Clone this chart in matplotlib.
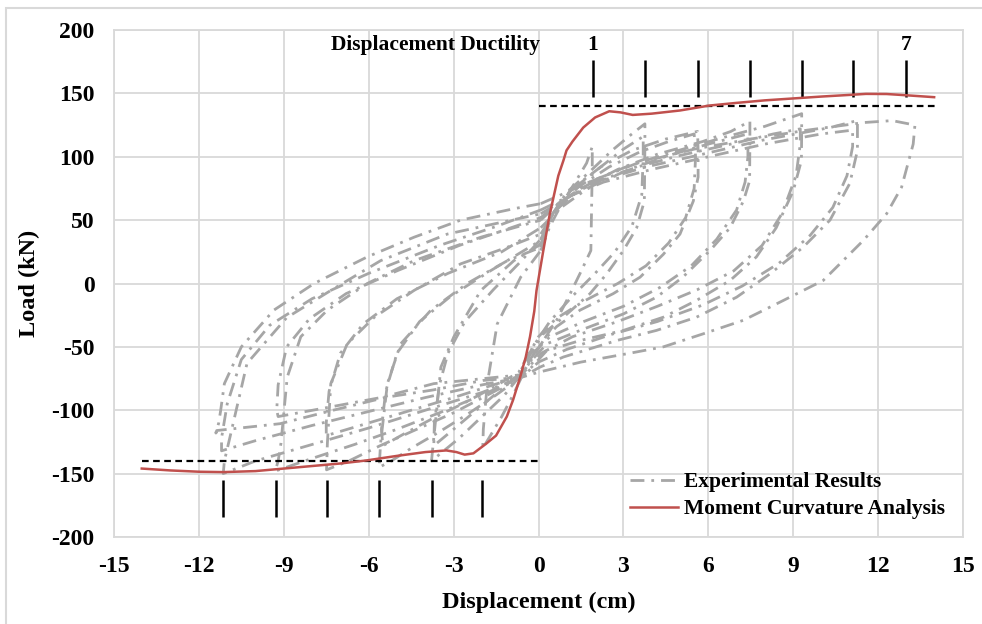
import matplotlib
matplotlib.use("Agg")
import matplotlib.pyplot as plt
from matplotlib.lines import Line2D
from matplotlib.patches import Rectangle

plt.rcParams['font.family'] = ['Liberation Serif', 'DejaVu Serif']
plt.rcParams['font.weight'] = 'bold'
plt.rcParams['axes.unicode_minus'] = False

# experimental hysteresis cycles (displacement in cm, load in kN)
cyc1_disp = [0.08, 0.4, 0.8, 1.3, 1.7, 1.9, 1.9, 1.88, 1.85, 1.47, 1.12, 0.64, 0.17, -0.3, -0.6,
             -0.9, -1.3, -1.7, -1.97, -1.95, -1.81, -1.46, -0.63, 0.08]
cyc1_load = [26, 45, 62, 80, 95, 108, 92, 65, 26, 8, -8, -29, -45, -60, -74,
             -88, -105, -120, -130, -115, -79, -32, 5, 26]

cyc2_disp = [0.08, 0.5, 1.0, 1.8, 2.6, 3.3, 3.76, 3.76, 3.74, 3.47, 3.0, 2.41, 1.82, 0.88, 0.17, -0.4, -0.7,
             -1.2, -2.0, -2.8, -3.4, -3.78, -3.72, -3.6, -3.45, -2.99, -2.04, -0.87, 0.08]
cyc2_load = [31, 55, 72, 88, 105, 118, 126, 110, 65, 44, 26, 7.6, -8, -26.6, -39.7, -60, -74,
             -88, -105, -122, -133, -140, -126, -100, -66, -42, -5.5, 18, 31]

cyc3_disp = [0.08, 0.5, 1.2, 2.2, 3.3, 4.5, 5.62, 5.64, 5.64, 5.47, 5.0, 4.41, 3.59, 2.64, 1.47, 0.64, 0.17, -0.3, -0.7,
             -1.5, -2.5, -3.5, -4.5, -5.2, -5.63, -5.58, -5.34, -4.87, -3.8, -2.52, -1.1, 0.08]
cyc3_load = [28.6, 55, 75, 92, 105, 114, 120, 105, 84, 65, 39, 23, 5, -8, -21, -34, -45, -62, -75,
             -88, -103, -117, -130, -140, -145, -126, -79, -47.6, -21, 0, 18, 28.6]

cyc4_disp = [0.08, 0.6, 1.5, 2.8, 4.2, 5.8, 6.8, 7.47, 7.47, 7.46, 7.24, 6.77, 6.06, 5.1, 4.17, 3.0, 1.47, 0.29, -0.3, -0.7,
             -1.8, -3.0, -4.3, -5.6, -6.7, -7.49, -7.46, -7.34, -6.76, -5.8, -4.4, -2.75, -1.1, 0.08]
cyc4_load = [39, 58, 75, 90, 102, 112, 120, 128, 115, 81, 65, 44, 26, 5, -10.8, -24, -37, -47.6, -62, -75,
             -88, -102, -115, -128, -140, -147, -126, -79, -47.6, -26.6, -5.5, 15.5, 28.6, 39]

cyc5_disp = [0.08, 0.7, 1.8, 3.2, 4.8, 6.5, 8.0, 9.3, 9.3, 9.29, 9.0, 8.4, 7.7, 6.77, 5.58, 4.41, 3.0, 1.47, 0.29, -0.2, -0.6,
             -2.0, -3.5, -5.0, -6.5, -8.0, -9.3, -9.2, -9.1, -8.88, -8.4, -7.46, -6.05, -4.4, -2.04, 0.08]
cyc5_load = [50, 63, 80, 93, 104, 115, 124, 134, 120, 97, 73, 44, 21, 2.4, -13.4, -26.6, -37, -45, -53, -65, -74,
             -88, -102, -115, -127, -138, -148, -140, -126, -74, -42, -21, 0, 18, 36.5, 50]

cyc6_disp = [0.08, 0.9, 2.0, 3.8, 5.8, 7.9, 10.3, 11.27, 11.27, 11.0, 10.3, 9.35, 8.18, 7.0, 5.58, 4.17, 2.76, 0.88, 0.05, -0.6,
             -2.0, -4.0, -6.0, -8.0, -10.0, -11.14, -11.1, -10.9, -10.3, -8.9, -7.34, -5.58, -3.22, 0.08]
cyc6_load = [55, 66, 80, 92, 102, 113, 123, 128.6, 105, 79, 50, 28.6, 7.6, -10.8, -26.6, -37, -45, -58, -66, -74,
             -86, -100, -114, -127, -140, -150, -140, -121, -63, -27, -5.5, 18, 39, 55]

cyc7_disp = [0.08, 1.0, 2.0, 3.5, 5.5, 7.5, 9.5, 11.5, 12.5, 13.3, 13.3, 13.24, 12.83, 12.3, 11.48, 10.06, 8.65, 7.24, 5.82,
             4.41, 3.23, 1.5, 0.0, -0.6, -1.96, -3.73, -5.37, -7.26, -9.13, -11.37, -11.4, -11.3, -11.23, -11.1,
             -10.5, -9.35, -7.93, -6.05, -4.4, -2.75, -0.87, 0.08]
cyc7_load = [63, 72, 82, 95, 106, 114, 121, 127, 128.5, 125, 124.7, 110, 76, 55, 34, 2.4, -13.4, -29, -39.7,
             -50, -55, -62, -70, -74, -76.5, -84, -89.7, -100, -110.6, -116, -118, -110, -100, -79,
             -50, -21, 0, 21, 36.5, 50, 59, 63]

cyc8_disp = [0.08, 0.8, 2.0, 3.5, 5.0, 6.8, 8.3, 9.25, 9.25, 9.1, 8.6, 7.9, 6.9, 5.6, 4.2, 2.8, 1.2, 0.1, -0.6,
             -1.5, -3.7, -5.58, -7.5, -9.2, -9.25, -9.2, -8.9, -8.1, -6.8, -5.0, -2.8, 0.08]
cyc8_load = [52, 65, 80, 92, 101, 110, 118, 122, 110, 85, 55, 30, 10, -5, -18, -30, -42, -55, -72,
             -74, -79, -90, -98, -105, -100, -80, -50, -28, -8, 10, 30, 52]

cyc9_disp = [0.08, 0.6, 1.4, 2.5, 3.6, 4.6, 5.5, 5.55, 5.5, 5.2, 4.6, 3.8, 2.8, 1.6, 0.6, 0.0, -0.7,
             -1.6, -2.6, -3.7, -4.7, -5.5, -5.55, -5.4, -5.0, -4.2, -3.1, -1.7, 0.08]
cyc9_load = [34, 57, 76, 92, 104, 112, 118, 100, 75, 52, 32, 14, 0, -14, -28, -42, -70,
             -82, -94, -106, -118, -128, -115, -85, -55, -30, -10, 10, 34]

cyc10_disp = [0.08, 0.6, 1.3, 2.2, 3.0, 3.7, 3.7, 3.65, 3.3, 2.7, 2.0, 1.2, 0.4, -0.2, -0.7,
              -1.4, -2.2, -3.0, -3.7, -3.68, -3.5, -3.2, -2.6, -1.6, -0.6, 0.08]
cyc10_load = [35, 58, 76, 92, 106, 116, 100, 70, 45, 25, 8, -10, -30, -50, -72,
              -85, -100, -115, -128, -110, -80, -55, -30, -5, 18, 35]

cyc11_disp = [0.08, 0.8, 1.8, 3.2, 4.6, 6.0, 7.4, 7.4, 7.3, 7.0, 6.3, 5.4, 4.3, 3.0, 1.6, 0.4, -0.2, -0.7,
              -1.6, -3.0, -4.5, -6.0, -7.5, -7.5, -7.4, -7.0, -6.2, -5.0, -3.2, -1.3, 0.08]
cyc11_load = [44, 60, 76, 90, 101, 110, 118, 100, 80, 58, 35, 14, -3, -18, -30, -42, -55, -74,
              -80, -90, -100, -110, -120, -110, -85, -55, -32, -12, 8, 25, 44]

cyc12_disp = [0.08, 1.0, 2.3, 4.0, 6.0, 8.0, 10.0, 11.1, 11.1, 10.9, 10.4, 9.6, 8.5, 7.2, 5.8, 4.2, 2.6, 1.0, 0.0, -0.6,
              -2.0, -4.0, -6.0, -8.0, -10.0, -11.2, -11.2, -11.0, -10.5, -9.5, -8.0, -6.0, -3.5, -1.5, 0.08]
cyc12_load = [58, 68, 80, 90, 100, 110, 118, 121, 108, 85, 60, 38, 16, -2, -17, -30, -40, -52, -62, -74,
              -80, -90, -101, -112, -124, -132, -122, -95, -60, -33, -12, 8, 30, 45, 58]

exp_cycles = [
    (cyc1_disp, cyc1_load), (cyc2_disp, cyc2_load), (cyc3_disp, cyc3_load),
    (cyc4_disp, cyc4_load), (cyc5_disp, cyc5_load), (cyc6_disp, cyc6_load),
    (cyc7_disp, cyc7_load), (cyc8_disp, cyc8_load), (cyc9_disp, cyc9_load),
    (cyc10_disp, cyc10_load), (cyc11_disp, cyc11_load), (cyc12_disp, cyc12_load),
]

# moment-curvature prediction
mc_disp = [-14.02, -13.0, -12.0, -11.14, -10.0, -9.0, -8.0, -7.0, -6.08, -5.0, -4.0, -3.26, -2.9, -2.61,
           -2.3, -1.85, -1.5, -1.12, -0.9, -0.65, -0.45, -0.3, -0.15, -0.07, 0.17, 0.4, 0.5, 0.7, 0.88,
           0.99, 1.2, 1.58, 2.0, 2.5, 2.9, 3.33, 4.0, 5.0, 6.04, 7.0, 8.0, 9.0, 10.0, 11.0, 11.57,
           12.3, 13.0, 13.98]
mc_load = [-146, -147.5, -148.5, -148.8, -148, -146, -144, -142, -139.6, -136, -133, -131.7, -133, -135,
           -134, -126.4, -120, -105, -92, -74, -58, -42, -22, -5.5, 26, 55, 65, 85, 97,
           105, 112, 123, 131, 135.9, 135, 133, 134, 136.5, 140.4, 142.5, 144.5, 146, 147.5, 148.8, 149.6,
           149.5, 148.5, 147]

# displacement ductility markers
duct_pos = [1.92, 3.78, 5.62, 7.46, 9.30, 11.13, 13.0]
duct_neg = [-11.14, -9.29, -7.49, -5.63, -3.78, -1.99]
yield_load = 140

x_ticks = [-15, -12, -9, -6, -3, 0, 3, 6, 9, 12, 15]
y_ticks = [-200, -150, -100, -50, 0, 50, 100, 150, 200]

gray = '#A6A6A6'
red = '#C0504D'
grid_col = '#D9D9D9'
dashdot = (0, (5, 2.5, 1, 2.5))

fig = plt.figure(figsize=(9.82, 6.24), dpi=100)
ax = fig.add_axes([114 / 982, 1 - 537 / 624, (963 - 114) / 982, (537 - 30) / 624])

# outer frame around the figure
fig.patches.append(Rectangle((6 / 982, -0.05), 1.2, 1.05 - 8 / 624,
                             transform=fig.transFigure, fill=False,
                             edgecolor='#D9D9D9', linewidth=1.5))

for d, l in exp_cycles:
    ax.plot(d, l, color=gray, linewidth=2.0, linestyle=dashdot, zorder=2)

ax.plot(mc_disp, mc_load, color=red, linewidth=1.8, zorder=4)

ax.hlines(yield_load, 0, 14, colors='black', linestyles=(0, (3, 2)), linewidth=1.6, zorder=3)
ax.hlines(-yield_load, -14, 0, colors='black', linestyles=(0, (3, 2)), linewidth=1.6, zorder=3)
ax.vlines(duct_pos, 147, 176, colors='black', linewidth=1.8, zorder=3)
ax.vlines(duct_neg, -155, -184, colors='black', linewidth=1.8, zorder=3)

ax.text(0.05, 188.5, 'Displacement Ductility', ha='right', va='center', fontsize=15.5, fontweight='bold')
ax.text(duct_pos[0], 188.5, '1', ha='center', va='center', fontsize=15.5, fontweight='bold')
ax.text(duct_pos[-1], 188.5, '7', ha='center', va='center', fontsize=15.5, fontweight='bold')

ax.set_xlim(-15, 15)
ax.set_ylim(-200, 200)
ax.set_xticks(x_ticks)
ax.set_yticks(y_ticks)
ax.grid(True, color=grid_col, linewidth=1.3, zorder=0)
ax.set_axisbelow(True)
for s in ax.spines.values():
    s.set_color(grid_col)
    s.set_linewidth(1.3)
ax.tick_params(length=0, pad=14, labelsize=17)
for lab in ax.get_xticklabels() + ax.get_yticklabels():
    lab.set_fontweight('bold')

ax.set_xlabel('Displacement (cm)', fontsize=17.5, fontweight='bold', labelpad=10)
ax.set_ylabel('Load (kN)', fontsize=17.5, fontweight='bold', labelpad=8)

handles = [Line2D([], [], color=gray, linewidth=2.0, linestyle=dashdot),
           Line2D([], [], color=red, linewidth=1.8)]
ax.legend(handles, ['Experimental Results', 'Moment Curvature Analysis'],
          loc='upper left', bbox_to_anchor=(0.608, 0.128), frameon=False,
          prop={'size': 15.5, 'weight': 'bold'}, handlelength=2.2, handletextpad=0.3,
          labelspacing=0.33, borderpad=0, borderaxespad=0)

fig.savefig('out.png', dpi=100)
